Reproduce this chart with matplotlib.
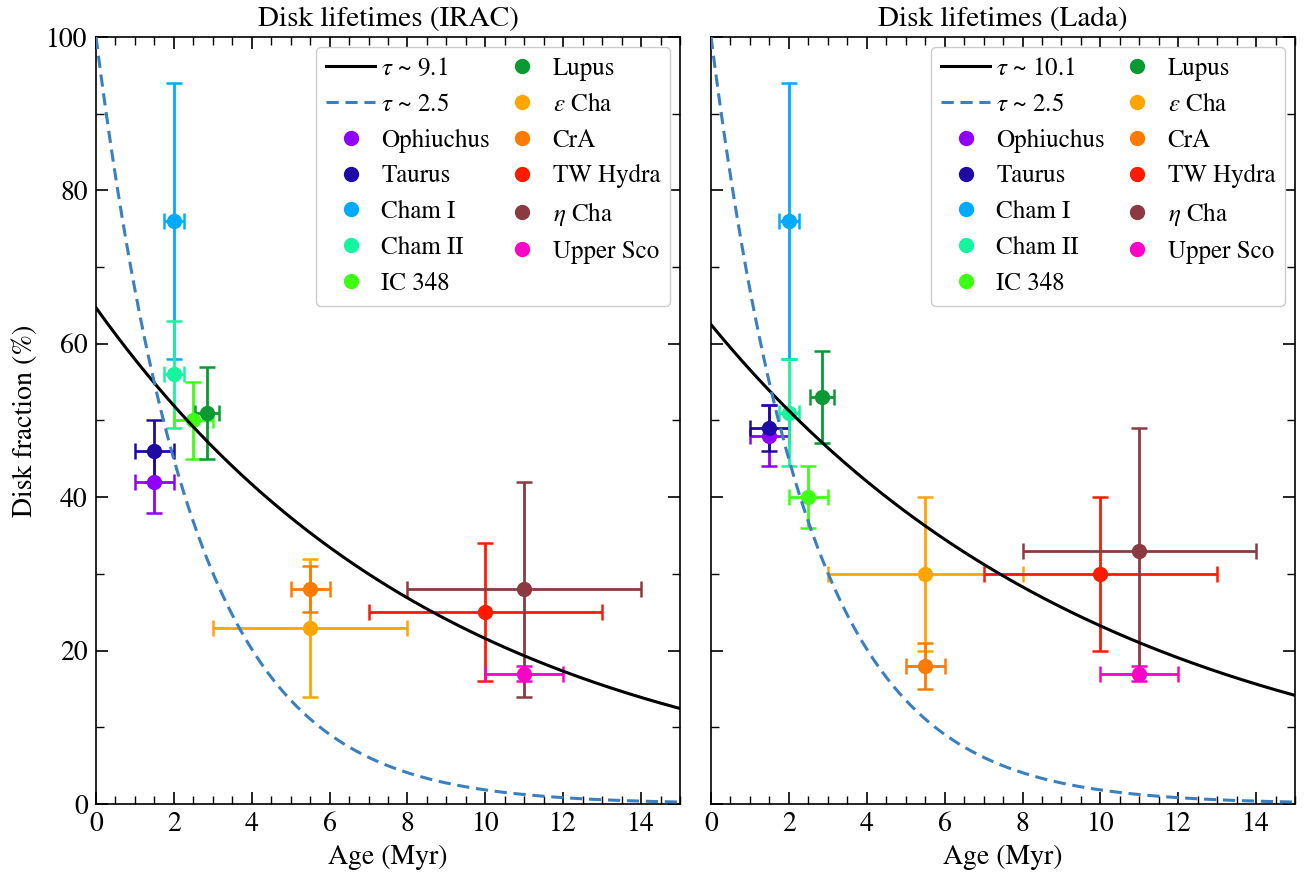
import numpy as np
import matplotlib
matplotlib.use("Agg")
import matplotlib.pyplot as plt

plt.rcParams["font.family"] = ["STIXGeneral", "Liberation Serif", "DejaVu Serif"]
plt.rcParams["mathtext.fontset"] = "stix"

# Cluster names and colours (same order in both panels)
regions = ["Ophiuchus", "Taurus", "Cham I", "Cham II", "IC 348", "Lupus",
           r"$\varepsilon$ Cha", "CrA", "TW Hydra", r"$\eta$ Cha", "Upper Sco"]
colors = ["#8f00ff", "#1f0aa8", "#00aaff", "#14f5a0", "#3cff14", "#0a9933",
          "#ffa500", "#ff7a00", "#ff1a00", "#8b3a42", "#ff00c8"]

# Ages (Myr) and age uncertainties
ages = [1.5, 1.5, 2.0, 2.0, 2.5, 2.85, 5.5, 5.5, 10.0, 11.0, 11.0]
age_err = [0.5, 0.5, 0.25, 0.25, 0.5, 0.3, 2.5, 0.5, 3.0, 3.0, 1.0]

# Disk fractions (%) from IRAC excess
frac_irac = [42, 46, 76, 56, 50, 51, 23, 28, 25, 28, 17]
err_irac = [4, 4, 18, 7, 5, 6, 9, 3, 9, 14, 1]

# Disk fractions (%) from Lada classification
frac_lada = [48, 49, 76, 51, 40, 53, 30, 18, 30, 33, 17]
err_lada = [4, 3, 18, 7, 4, 6, 10, 3, 10, 16, 1]

# Exponential decay fits: amplitude, timescale
fit_irac = (64.7, 9.1)
fit_lada = (62.5, 10.1)
fit_fast = (100.0, 2.5)

t = np.linspace(0, 15, 400)

fig = plt.figure(figsize=(13.08, 8.8), dpi=100)
ax1 = fig.add_axes([0.0734, 0.0864, 0.4465, 0.8716])
ax2 = fig.add_axes([0.5436, 0.0864, 0.4465, 0.8716])


def draw_panel(ax, frac, err, fit, title):
    for x, xe, y, ye, c in zip(ages, age_err, frac, err, colors):
        ax.errorbar(x, y, xerr=xe, yerr=ye, fmt="none", ecolor=c,
                    elinewidth=2, capsize=6, capthick=1.8, zorder=2)
    pts = []
    for x, y, c, name in zip(ages, frac, colors, regions):
        p, = ax.plot(x, y, "o", color=c, ms=10, label=name, zorder=2.5)
        pts.append(p)

    amp, tau = fit
    l1, = ax.plot(t, amp * np.exp(-t / tau), color="black", lw=2.2,
                  zorder=3, label=r"$\tau$ ~ %.1f" % tau)
    amp2, tau2 = fit_fast
    l2, = ax.plot(t, amp2 * np.exp(-t / tau2), color="#3a7fc0", lw=2.2,
                  ls=(0, (4, 2.2)), zorder=3, label=r"$\tau$ ~ %.1f" % tau2)

    ax.legend(handles=[l1, l2] + pts, ncol=2, loc="upper right",
              fontsize=18, handlelength=1.95, handletextpad=0.25,
              columnspacing=0.3, labelspacing=0.47, borderpad=0.4,
              borderaxespad=0.4, framealpha=1, edgecolor="#cccccc")

    ax.set_xlim(0, 15)
    ax.set_ylim(0, 100)
    ax.set_xticks(np.arange(0, 15, 2))
    ax.set_xticks(np.arange(0, 15.01, 0.5), minor=True)
    ax.set_yticks(np.arange(0, 101, 20))
    ax.set_yticks(np.arange(0, 101, 10), minor=True)
    ax.tick_params(which="both", direction="in", top=True, right=True,
                   labelsize=20)
    ax.tick_params(which="major", length=8.5, width=1.2, pad=6)
    ax.tick_params(which="minor", length=5.5, width=1.0)
    for s in ax.spines.values():
        s.set_linewidth(1.2)
    ax.set_xlabel("Age (Myr)", fontsize=20, labelpad=5)
    ax.set_title(title, fontsize=21, pad=8)


draw_panel(ax1, frac_irac, err_irac, fit_irac, "Disk lifetimes (IRAC)")
draw_panel(ax2, frac_lada, err_lada, fit_lada, "Disk lifetimes (Lada)")

ax1.set_ylabel("Disk fraction (%)", fontsize=20, labelpad=6)
ax2.tick_params(labelleft=False)

fig.savefig("out.png", dpi=100)
